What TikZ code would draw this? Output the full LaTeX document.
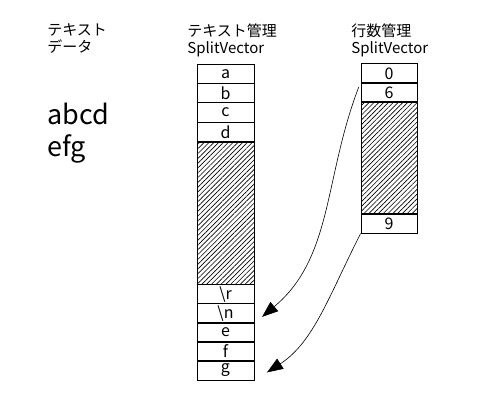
\documentclass[tikz,border=0pt]{standalone}
\usepackage{fontspec}
\setmainfont{Noto Sans CJK JP}
\usetikzlibrary{positioning, patterns.meta, arrows.meta}

\begin{document}
\begin{tikzpicture}[x=1pt, y=-1pt, inner sep=0pt, line width=0.8pt,
      cell/.style={rectangle, draw, minimum width=57pt, minimum height=19.4pt,
        font=\fontsize{16}{17}\selectfont},
      rcell/.style={cell, minimum width=56pt},
      gap/.style={pattern={Lines[angle=45, distance=3.4pt, line width=0.65pt]}},
      hdr/.style={anchor=north west, align=left, font=\fontsize{15}{17}\selectfont},
      big/.style={anchor=north west, align=left, font=\fontsize{27}{32}\selectfont},
      ptr/.style={-{Triangle[length=16pt, width=12pt]}, line width=0.6pt}]
      \useasboundingbox (0,0) rectangle (486,414);
      % text data;
      \node[hdr] (tdata) at(47,23) {テキスト\\データ};
      \node[big] (tstr) at(47,103) {abcd\\efg};
      % text SplitVector;
      \node[hdr] (thead) at(187,23) {テキスト管理\\SplitVector};
      \node[cell] (ta) at(225.5,73.7) {a};
      \node[cell] (tb) at(225.5,93.1) {b};
      \node[cell] (tc) at(225.5,112.5) {c};
      \node[cell] (td) at(225.5,131.9) {d};
      \node[cell, gap, minimum height=142.4pt] (tgap) at(225.5,213.2) {};
      \node[cell] (tr) at(225.5,294.1) {\textbackslash r};
      \node[cell] (tn) at(225.5,313.2) {\textbackslash n};
      \node[cell] (te) at(225.5,332.3) {e};
      \node[cell] (tf) at(225.5,351.4) {f};
      \node[cell] (tg) at(225.5,370.5) {g};
      % line SplitVector;
      \node[hdr] (lhead) at(351,23) {行数管理\\SplitVector};
      \node[rcell] (l0) at(389,73.5) {0};
      \node[rcell] (l6) at(389,92.3) {6};
      \node[rcell, gap, minimum height=112.5pt] (lgap) at(389,157.8) {};
      \node[rcell] (l9) at(389,223.5) {9};
      % arrows;
      \path (l6.north west) edge[ptr, shorten <=5pt, shorten >=10pt, out=249, in=40] (tn.south east);
      \path (l9.south west) edge[ptr, shorten >=15pt, out=243, in=33] (tg.south east);
\end{tikzpicture}
\end{document}
